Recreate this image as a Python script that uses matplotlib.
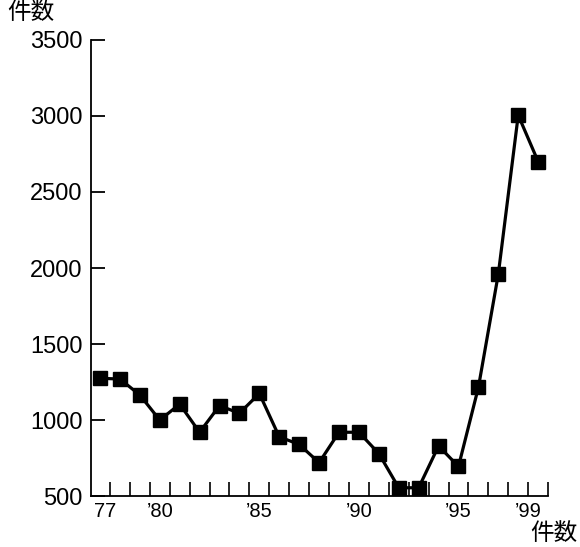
import matplotlib
matplotlib.use("Agg")
import matplotlib.pyplot as plt

plt.rcParams['font.family'] = ['Liberation Sans', 'Noto Sans CJK JP', 'DejaVu Sans']

# yearly counts 1977-1999
years = list(range(1977, 2000))
counts = [1275, 1270, 1165, 1000, 1105, 920, 1095, 1045, 1175, 890,
          840, 720, 920, 920, 780, 555, 555, 830, 695, 1215,
          1960, 3005, 2700]

xtick_pos = [1977.25, 1980, 1985, 1990, 1995, 1998.5]
xtick_labels = ["77", "’80", "’85", "’90", "’95", "’99"]
yticks = [500, 1000, 1500, 2000, 2500, 3000, 3500]

fig = plt.figure(figsize=(5.8, 5.47), dpi=100)
ax = fig.add_axes([0.157, 0.093, 0.788, 0.834])

ax.plot(years, counts, color='black', lw=2.3, marker='s', ms=9.5,
        markerfacecolor='black', markeredgecolor='black', clip_on=False)

ax.set_xlim(1976.55, 1999.5)
ax.set_ylim(500, 3500)

for s in ['top', 'right']:
    ax.spines[s].set_visible(False)
ax.spines['left'].set_linewidth(1.3)
ax.spines['bottom'].set_linewidth(1.3)

# y ticks
ax.set_yticks(yticks)
ax.set_yticklabels([str(v) for v in yticks], fontsize=17)
ax.tick_params(axis='y', direction='in', length=10, width=1.3, pad=6)

# x: one small tick per year boundary, labels for selected years
ax.set_xticks([y + 0.5 for y in years])
ax.set_xticklabels([])
ax.tick_params(axis='x', which='major', direction='in', length=10, width=1.2)
for p, t in zip(xtick_pos, xtick_labels):
    ax.text(p, -0.012, t, transform=ax.get_xaxis_transform(),
            ha='center', va='top', fontsize=14.5)

fig.text(0.013, 0.998, "件数", ha='left', va='top', fontsize=17,
         family=['Noto Sans CJK JP', 'DejaVu Sans'])
fig.text(0.996, 0.004, "件数", ha='right', va='bottom', fontsize=17,
         family=['Noto Sans CJK JP', 'DejaVu Sans'])

fig.savefig("out.png", dpi=100)
